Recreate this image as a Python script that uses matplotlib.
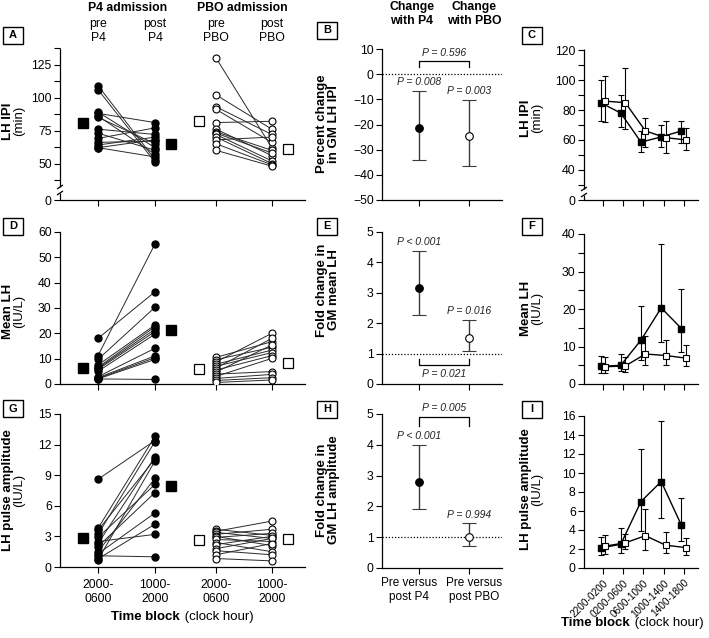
import numpy as np
import matplotlib
matplotlib.use('Agg')
import matplotlib.pyplot as plt
from matplotlib.patches import Rectangle

plt.rcParams['font.family'] = ['Liberation Sans', 'DejaVu Sans']
plt.rcParams['font.size'] = 8

# ---------------- data ----------------
groups = ['pre\nP4', 'post\nP4', 'pre\nPBO', 'post\nPBO']
block_labels = ['2000-\n0600', '1000-\n2000', '2000-\n0600', '1000-\n2000']
hour_blocks = ['2200-0200', '0200-0600', '0600-1000', '1000-1400', '1400-1800']
change_labels = ['Pre versus\npost P4', 'Pre versus\npost PBO']

# Panel A: LH IPI (min)
ipi_p4_pre = [109, 106, 89, 88, 86, 85, 76, 73, 69, 66, 64, 62, 62]
ipi_p4_post = [53, 51, 62, 81, 57, 65, 72, 60, 77, 67, 70, 68, 55]
ipi_pbo_pre = [130, 102, 93, 91, 81, 76, 74, 73, 72, 70, 68, 65, 60]
ipi_pbo_post = [62, 76, 72, 66, 82, 56, 60, 58, 52, 50, 70, 49, 48]
ipi_means = [81, 65, 82, 61]

# Panel D: mean LH (IU/L)
mlh_p4_pre = [11.2, 18.0, 9.7, 7.5, 6.6, 6.2, 5.8, 5.0, 2.9, 2.5, 2.2, 2.0, 2.0]
mlh_p4_post = [55.3, 36.4, 30.3, 23.3, 22.6, 21.6, 20.7, 19.7, 14.1, 11.1, 10.4, 9.7, 1.8]
mlh_pbo_pre = [10.5, 9.6, 8.7, 7.8, 7.0, 6.3, 5.5, 4.7, 3.9, 3.0, 2.2, 1.4, 0.6]
mlh_pbo_post = [16.7, 14.5, 20.0, 13.4, 12.4, 18.0, 11.2, 15.4, 4.9, 10.1, 3.8, 2.5, 1.6]
mlh_means = [6.2, 21.5, 5.8, 8.4]

# Panel G: LH pulse amplitude (IU/L)
amp_p4_pre = [8.6, 3.8, 3.6, 3.2, 2.9, 2.5, 2.3, 2.0, 1.5, 1.3, 1.1, 0.8, 0.7]
amp_p4_post = [12.4, 12.8, 10.6, 12.3, 8.1, 3.2, 10.8, 7.3, 8.7, 5.3, 1.0, 4.2, 10.4]
amp_pbo_pre = [3.7, 3.5, 3.4, 3.2, 3.0, 2.9, 2.7, 2.4, 2.2, 1.8, 1.6, 1.2, 0.83]
amp_pbo_post = [3.1, 4.5, 2.8, 3.7, 2.1, 3.3, 2.5, 1.5, 3.0, 2.8, 1.2, 2.3, 0.6]
amp_means = [2.8, 7.9, 2.6, 2.7]

# Panels B, E, H: change with P4 / PBO (mean, lower, upper)
b_mean = [-21.5, -24.5]; b_lo = [-34.0, -36.5]; b_hi = [-6.7, -10.3]
e_mean = [3.15, 1.52]; e_lo = [2.28, 1.10]; e_hi = [4.38, 2.12]
h_mean = [2.78, 1.02]; h_lo = [1.92, 0.70]; h_hi = [4.00, 1.45]
b_pvals = ['P = 0.008', 'P = 0.003']; b_pcomp = 'P = 0.596'
e_pvals = ['P < 0.001', 'P = 0.016']; e_pcomp = 'P = 0.021'
h_pvals = ['P < 0.001', 'P = 0.994']; h_pcomp = 'P = 0.005'

# Panels C, F, I: time-block profiles (P4 filled, PBO open)
c_p4 = [85, 78, 58.5, 62, 66]; c_p4_lo = [73, 68.5, 52, 55, 58]; c_p4_hi = [100, 90, 66, 70, 73]
c_pbo = [86, 85, 66, 61.5, 60]; c_pbo_lo = [72, 67, 55, 51, 53]; c_pbo_hi = [103, 108, 75, 73, 68]
f_p4 = [4.7, 5.0, 11.7, 20.3, 14.8]; f_p4_lo = [3.0, 3.5, 6.5, 11.2, 8.6]; f_p4_hi = [7.4, 8.0, 20.8, 37.2, 25.3]
f_pbo = [4.6, 4.8, 8.0, 7.6, 6.9]; f_pbo_lo = [3.0, 3.3, 5.2, 5.0, 4.7]; f_pbo_hi = [7.2, 7.3, 12.8, 11.8, 10.3]
i_p4 = [2.1, 2.5, 7.0, 9.1, 4.5]; i_p4_lo = [1.4, 1.6, 3.9, 5.3, 2.8]; i_p4_hi = [3.3, 4.2, 12.5, 15.5, 7.4]
i_pbo = [2.3, 2.65, 3.4, 2.4, 2.15]; i_pbo_lo = [1.5, 2.0, 1.9, 1.6, 1.4]; i_pbo_hi = [3.5, 3.6, 6.2, 3.8, 3.2]

# ---------------- layout ----------------
W, H = 709, 638
fig = plt.figure(figsize=(W / 100, H / 100), dpi=100)
TICK = 8.8


def add_ax(l, r, t, b):
    return fig.add_axes([l / W, 1 - b / H, (r - l) / W, (b - t) / H])


def setup(ax):
    ax.spines['top'].set_visible(False)
    ax.spines['right'].set_visible(False)
    for s in ['left', 'bottom']:
        ax.spines[s].set_linewidth(0.9)
    ax.tick_params(which='both', direction='out', length=4, width=0.8,
                   labelsize=TICK, pad=2)
    ax.patch.set_alpha(0)


def break_scale(thr, k):
    def fwd(y):
        y = np.asarray(y, float)
        return np.where(y >= thr, y, thr - (thr - y) * k)

    def inv(y):
        y = np.asarray(y, float)
        return np.where(y >= thr, y, thr - (thr - y) / k)
    return fwd, inv


def ybreak(ax, fb, gap_px=3):
    ax.spines['left'].set_visible(False)
    pos = ax.get_position()
    hp = pos.height * H
    wp = pos.width * W
    g = gap_px / hp
    kw = dict(transform=ax.transAxes, color='black', lw=0.9, clip_on=False,
              solid_capstyle='butt')
    ax.plot([0, 0], [0, fb - g], **kw)
    ax.plot([0, 0], [fb + g, 1], **kw)
    dx = 3 / wp
    dy = 2 / hp
    ax.plot([-dx, dx], [fb - g - dy, fb - g + dy], **kw)
    ax.plot([-dx, dx], [fb + g - dy, fb + g + dy], **kw)


def panel_box(letter, cx, cy):
    w, h = 20, 17
    fig.add_artist(Rectangle(((cx - w / 2) / W, 1 - (cy + h / 2) / H), w / W, h / H,
                             transform=fig.transFigure, fill=False, lw=1.0,
                             edgecolor='black'))
    fig.text(cx / W, 1 - cy / H, letter, ha='center', va='center',
             fontsize=8, fontweight='bold')


def ylab2(cx_bold, cx_norm, cy, bold, norm, size=9.5):
    fig.text(cx_bold / W, 1 - cy / H, bold, rotation=90, ha='center', va='center',
             fontsize=size, fontweight='bold')
    if norm:
        fig.text(cx_norm / W, 1 - cy / H, norm, rotation=90, ha='center',
                 va='center', fontsize=size)


xpos = [1, 2, 3.07, 4.05]
mean_off = [-0.27, 0.28, -0.3, 0.28]
linecol = '#2a2a2a'


def individual(ax, p4_pre, p4_post, pbo_pre, pbo_post, means):
    for a, b in zip(p4_pre, p4_post):
        ax.plot([xpos[0], xpos[1]], [a, b], color=linecol, lw=0.7, zorder=1)
    for a, b in zip(pbo_pre, pbo_post):
        ax.plot([xpos[2], xpos[3]], [a, b], color=linecol, lw=0.7, zorder=1)
    ax.plot([xpos[0]] * len(p4_pre), p4_pre, 'o', ms=5, mfc='black', mec='black', zorder=3)
    ax.plot([xpos[1]] * len(p4_post), p4_post, 'o', ms=5, mfc='black', mec='black', zorder=3)
    ax.plot([xpos[2]] * len(pbo_pre), pbo_pre, 'o', ms=5, mfc='white', mec='black', mew=0.8, zorder=3)
    ax.plot([xpos[3]] * len(pbo_post), pbo_post, 'o', ms=5, mfc='white', mec='black', mew=0.8, zorder=3)
    mx = [x + o for x, o in zip(xpos, mean_off)]
    ax.plot(mx[:2], means[:2], 's', ls='none', ms=7, mfc='black', mec='black', zorder=3)
    ax.plot(mx[2:], means[2:], 's', ls='none', ms=7, mfc='white', mec='black', mew=0.9, zorder=3)
    ax.set_xlim(1 - 38 / 57, 1 + 207 / 57)
    ax.set_xticks(xpos)


# ---- Panel A ----
axA = add_ax(60, 305, 48, 200)
setup(axA)
individual(axA, ipi_p4_pre, ipi_p4_post, ipi_pbo_pre, ipi_pbo_post, ipi_means)
axA.set_yscale('function', functions=break_scale(30, 0.255))
axA.set_ylim(0, 137.5)
axA.set_yticks([0, 50, 75, 100, 125])
axA.set_yticks([37.5, 62.5, 87.5, 112.5, 137.5], minor=True)
axA.set_xticklabels([])
ybreak(axA, 10 / 152)

# ---- Panel D ----
axD = add_ax(60, 305, 232, 384)
setup(axD)
individual(axD, mlh_p4_pre, mlh_p4_post, mlh_pbo_pre, mlh_pbo_post, mlh_means)
axD.set_ylim(0, 60)
axD.set_yticks([0, 10, 20, 30, 40, 50, 60])
axD.set_xticklabels([])

# ---- Panel G ----
axG = add_ax(60, 305, 414, 567)
setup(axG)
individual(axG, amp_p4_pre, amp_p4_post, amp_pbo_pre, amp_pbo_post, amp_means)
axG.set_ylim(0, 15)
axG.set_yticks([0, 3, 6, 9, 12, 15])
axG.set_xticklabels(block_labels, fontsize=TICK, linespacing=1.15)
axG.tick_params(axis='x', pad=5)


# ---- Panels B, E, H ----
def change_panel(ax, m, lo, hi, pvals, pvpos):
    for i, (mm, l, h) in enumerate(zip(m, lo, hi)):
        fc = 'black' if i == 0 else 'white'
        ax.errorbar([i], [mm], yerr=[[mm - l], [h - mm]], fmt='o', ms=5.5,
                    mfc=fc, mec='black', mew=0.8, ecolor='#3a3a3a', elinewidth=1.0,
                    capsize=5, capthick=1.0, zorder=3)
        ax.text(i, pvpos[i], pvals[i], ha='center', va='center', fontsize=7.5,
                style='italic', color='#222', clip_on=False)
    ax.set_xlim(-0.74, 1.66)
    ax.set_xticks([0, 1])


axB = add_ax(382, 502, 49, 200)
setup(axB)
change_panel(axB, b_mean, b_lo, b_hi, b_pvals, [-3.3, -6.7])
axB.axhline(0, color='black', lw=0.9, ls=(0, (1, 1.5)), zorder=1)
axB.set_ylim(-50, 10)
axB.set_yticks([-50, -40, -30, -20, -10, 0, 10])
axB.set_yticklabels(['\u221250', '\u221240', '\u221230', '\u221220', '\u221210', '0', '10'])
axB.set_xticklabels([])
axB.plot([0, 0, 1, 1], [2.9, 5.2, 5.2, 2.9], color='black', lw=0.9)
axB.text(0.5, 8.3, b_pcomp, ha='center', va='center', fontsize=7.5, style='italic', color='#222')

axE = add_ax(382, 502, 232, 384)
setup(axE)
change_panel(axE, e_mean, e_lo, e_hi, e_pvals, [4.66, 2.41])
axE.axhline(1, color='black', lw=0.9, ls=(0, (1, 1.5)), zorder=1)
axE.set_ylim(0, 5)
axE.set_yticks([0, 1, 2, 3, 4, 5])
axE.set_xticklabels([])
axE.plot([0, 0, 1, 1], [0.82, 0.62, 0.62, 0.82], color='black', lw=0.9)
axE.text(0.5, 0.33, e_pcomp, ha='center', va='center', fontsize=7.5, style='italic', color='#222')

axH = add_ax(382, 502, 414, 568)
setup(axH)
change_panel(axH, h_mean, h_lo, h_hi, h_pvals, [4.3, 1.73])
axH.axhline(1, color='black', lw=0.9, ls=(0, (1, 1.5)), zorder=1)
axH.set_ylim(0, 5)
axH.set_yticks([0, 1, 2, 3, 4, 5])
axH.set_xticklabels([])
for xc, lab in zip([409, 474], change_labels):
    fig.text(xc / W, 1 - 590 / H, lab, ha='center', va='center', fontsize=8.5,
             linespacing=1.15)
axH.plot([0, 0, 1, 1], [4.6, 4.9, 4.9, 4.6], color='black', lw=0.9, clip_on=False)
axH.text(0.5, 5.18, h_pcomp, ha='center', va='center', fontsize=7.5, style='italic',
         color='#222', clip_on=False)


# ---- Panels C, F, I ----
def profile(ax, p4, p4lo, p4hi, pbo, pbolo, pbohi):
    x = np.arange(len(hour_blocks))
    xa = x - 0.12
    xb = x + 0.1
    ax.errorbar(xa, p4, yerr=[np.subtract(p4, p4lo), np.subtract(p4hi, p4)], fmt='s-',
                color='black', ms=4.5, mfc='black', mec='black', lw=1.0,
                elinewidth=0.8, capsize=2, capthick=0.8, zorder=3)
    ax.errorbar(xb, pbo, yerr=[np.subtract(pbo, pbolo), np.subtract(pbohi, pbo)], fmt='s-',
                color='black', ms=4.5, mfc='white', mec='black', mew=0.8, lw=1.0,
                elinewidth=0.8, capsize=2, capthick=0.8, zorder=4)
    ax.set_xlim(-0.94, 4.7)
    ax.set_xticks(x)


axC = add_ax(584, 698, 49, 200)
setup(axC)
profile(axC, c_p4, c_p4_lo, c_p4_hi, c_pbo, c_pbo_lo, c_pbo_hi)
axC.set_yscale('function', functions=break_scale(25, 0.2136))
axC.set_ylim(0, 121)
axC.set_yticks([0, 40, 60, 80, 100, 120])
axC.set_yticks([30, 50, 70, 90, 110], minor=True)
axC.set_xticklabels([])
ybreak(axC, 8 / 151)

axF = add_ax(584, 698, 234, 384)
setup(axF)
profile(axF, f_p4, f_p4_lo, f_p4_hi, f_pbo, f_pbo_lo, f_pbo_hi)
axF.set_ylim(0, 40)
axF.set_yticks([0, 10, 20, 30, 40])
axF.set_yticks([5, 15, 25, 35], minor=True)
axF.set_xticklabels([])

axI = add_ax(584, 698, 416, 568)
setup(axI)
profile(axI, i_p4, i_p4_lo, i_p4_hi, i_pbo, i_pbo_lo, i_pbo_hi)
axI.set_ylim(0, 16)
axI.set_yticks(np.arange(0, 17, 2))
axI.set_xticklabels(hour_blocks, rotation=45, ha='right', rotation_mode='anchor',
                    fontsize=7.2)
axI.tick_params(axis='x', pad=3)

# ---------------- headers and labels ----------------
fig.text(128 / W, 1 - 8 / H, 'P4 admission', ha='center', va='center', fontsize=8.8,
         fontweight='bold')
fig.text(242 / W, 1 - 8 / H, 'PBO admission', ha='center', va='center', fontsize=8.8,
         fontweight='bold')
for x, lab in zip([98, 155, 216, 272], groups):
    fig.text(x / W, 1 - 31 / H, lab, ha='center', va='center', fontsize=8.8,
             linespacing=1.15)
fig.text(412 / W, 1 - 14 / H, 'Change\nwith P4', ha='center', va='center', fontsize=8.8,
         fontweight='bold', linespacing=1.15)
fig.text(474 / W, 1 - 14 / H, 'Change\nwith PBO', ha='center', va='center', fontsize=8.8,
         fontweight='bold', linespacing=1.15)

panel_box('A', 13, 35.5)
panel_box('B', 327, 30)
panel_box('C', 532, 35.5)
panel_box('D', 13, 226)
panel_box('E', 327, 226)
panel_box('F', 532, 226)
panel_box('G', 13, 408.5)
panel_box('H', 327, 409)
panel_box('I', 532, 409)

ylab2(8, 19, 121, 'LH IPI', '(min)')
ylab2(8, 19, 311, 'Mean LH', '(IU/L)')
ylab2(8, 19, 490, 'LH pulse amplitude', '(IU/L)')
ylab2(526, 537, 118, 'LH IPI', '(min)')
ylab2(526, 537, 308, 'Mean LH', '(IU/L)')
ylab2(526, 537, 489, 'LH pulse amplitude', '(IU/L)')
fig.text(328 / W, 1 - 124 / H, 'Percent change\nin GM LH IPI', rotation=90, ha='center',
         va='center', fontsize=9.5, fontweight='bold', linespacing=1.05)
fig.text(328 / W, 1 - 290 / H, 'Fold change in\nGM mean LH', rotation=90, ha='center',
         va='center', fontsize=9.5, fontweight='bold', linespacing=1.05)
fig.text(328 / W, 1 - 490 / H, 'Fold change in\nGM LH amplitude', rotation=90, ha='center',
         va='center', fontsize=9.5, fontweight='bold', linespacing=1.05)

fig.text(180 / W, 1 - 617 / H, 'Time block', ha='right', va='center', fontsize=9.5,
         fontweight='bold')
fig.text(181 / W, 1 - 617 / H, ' (clock hour)', ha='left', va='center', fontsize=9.5)
fig.text(630 / W, 1 - 623 / H, 'Time block', ha='right', va='center', fontsize=9.5,
         fontweight='bold')
fig.text(631 / W, 1 - 623 / H, ' (clock hour)', ha='left', va='center', fontsize=9.5)

fig.savefig('out.png', dpi=100, facecolor='white')
